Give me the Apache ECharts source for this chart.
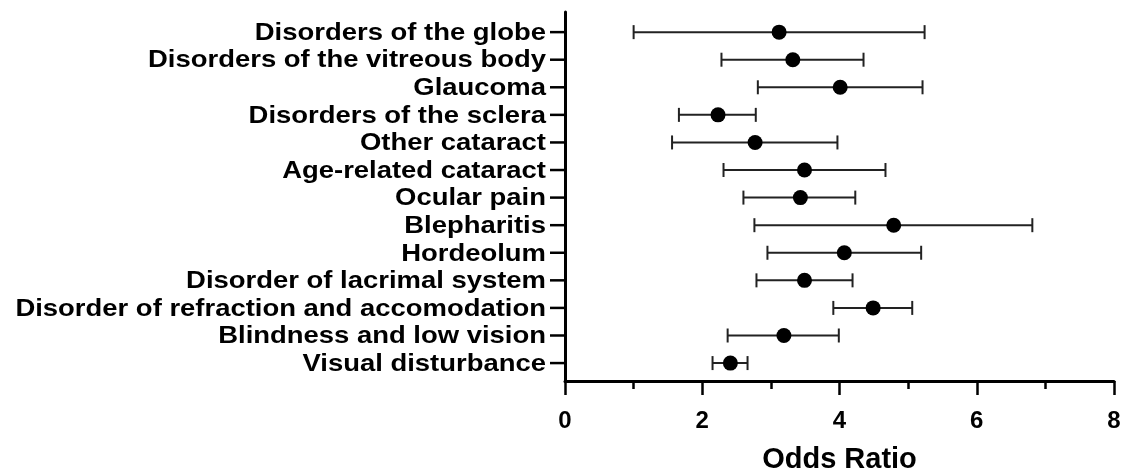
<!DOCTYPE html>
<html>
<head>
<meta charset="utf-8">
<script src="https://cdn.jsdelivr.net/npm/echarts@6/dist/echarts.min.js"></script>
<style>
    html, body { margin: 0; padding: 0; background: #fff; }
    #chart { width: 1121px; height: 473px; }
</style>
</head>
<body>
<div id="chart"></div>
<script>
// 类别（从上到下）
const categories = [
    'Disorders of the globe',
    'Disorders of the vitreous body',
    'Glaucoma',
    'Disorders of the sclera',
    'Other cataract',
    'Age-related cataract',
    'Ocular pain',
    'Blepharitis',
    'Hordeolum',
    'Disorder of lacrimal system',
    'Disorder of refraction and accomodation',
    'Blindness and low vision',
    'Visual disturbance',
];
// odds ratio 及 95% CI
const oddsRatio = [3.12, 3.32, 4.01, 2.23, 2.77, 3.49, 3.43, 4.79, 4.07, 3.49, 4.49, 3.19, 2.41];
const ciLow = [1.00, 2.28, 2.81, 1.66, 1.56, 2.31, 2.60, 2.76, 2.95, 2.79, 3.91, 2.37, 2.15];
const ciHigh = [5.24, 4.35, 5.21, 2.78, 3.97, 4.67, 4.23, 6.81, 5.19, 4.19, 5.06, 3.99, 2.66];
const xTicks = [0, 2, 4, 6, 8];

const font = '"Liberation Sans", Arial, sans-serif';
const myEcharts = echarts.init(document.getElementById('chart'));

// 每一行的位置 = 序号 1..13
const rows = categories.map((c, i) => i + 1);

const options = {
    animation: false,
    grid: { left: 565, right: 7, top: 12, bottom: 92, outerBoundsMode: 'none' },
    xAxis: {
        type: 'value',
        min: xTicks[0],
        max: xTicks[xTicks.length - 1],
        interval: 2,
        splitLine: { show: false },
        axisLine: { lineStyle: { color: '#000', width: 3 } },
        axisTick: { length: 14, lineStyle: { color: '#000', width: 2.5 } },
        minorTick: { show: true, splitNumber: 2, length: 8, lineStyle: { color: '#000', width: 2.5 } },
        axisLabel: { color: '#000', fontSize: 24, fontWeight: 'bold', fontFamily: font, margin: 28 },
        name: 'Odds Ratio',
        nameLocation: 'middle',
        nameGap: 64,
        nameTextStyle: { color: '#000', fontSize: 29, fontWeight: 'bold', fontFamily: font },
    },
    yAxis: {
        type: 'value',
        inverse: true,
        min: 0.27,
        max: 13.65,
        splitLine: { show: false },
        axisTick: { show: false },
        axisLabel: { show: false },
        axisLine: { show: true, onZero: false, lineStyle: { color: '#000', width: 3 } },
    },
    series: [
        {
            // 类别刻度和文字（文字略微横向拉宽，和原图一致）
            type: 'custom',
            data: rows.map((r, i) => [0, r, categories[i]]),
            encode: { x: 0, y: 1 },
            clip: false,
            silent: true,
            renderItem: (params, api) => {
                const p = api.coord([api.value(0), api.value(1)]);
                return {
                    type: 'group',
                    children: [
                        {
                            type: 'line',
                            shape: { x1: p[0] - 15, y1: p[1], x2: p[0], y2: p[1] },
                            style: { stroke: '#000', lineWidth: 2.5 },
                        },
                        {
                            type: 'text',
                            x: p[0] - 19,
                            y: p[1] + 1,
                            scaleX: 1.12,
                            style: {
                                text: categories[params.dataIndex],
                                x: 0,
                                y: 0,
                                align: 'right',
                                verticalAlign: 'middle',
                                fill: '#000',
                                fontSize: 24.5,
                                fontWeight: 'bold',
                                fontFamily: font,
                            },
                        },
                    ],
                };
            },
        },
        {
            // 误差线
            type: 'custom',
            data: rows.map((r, i) => [ciLow[i], ciHigh[i], r]),
            encode: { x: [0, 1], y: 2 },
            silent: true,
            renderItem: (params, api) => {
                const a = api.coord([api.value(0), api.value(2)]);
                const b = api.coord([api.value(1), api.value(2)]);
                const h = 7;
                const st = { stroke: '#222', lineWidth: 2 };
                return {
                    type: 'group',
                    children: [
                        { type: 'line', shape: { x1: a[0], y1: a[1], x2: b[0], y2: b[1] }, style: st },
                        { type: 'line', shape: { x1: a[0], y1: a[1] - h, x2: a[0], y2: a[1] + h }, style: st },
                        { type: 'line', shape: { x1: b[0], y1: b[1] - h, x2: b[0], y2: b[1] + h }, style: st },
                    ],
                };
            },
        },
        {
            type: 'scatter',
            data: rows.map((r, i) => [oddsRatio[i], r]),
            symbol: 'circle',
            symbolSize: 15,
            itemStyle: { color: '#000', opacity: 1 },
            z: 5,
        },
    ],
};
myEcharts.setOption(options);
</script>
</body>
</html>
